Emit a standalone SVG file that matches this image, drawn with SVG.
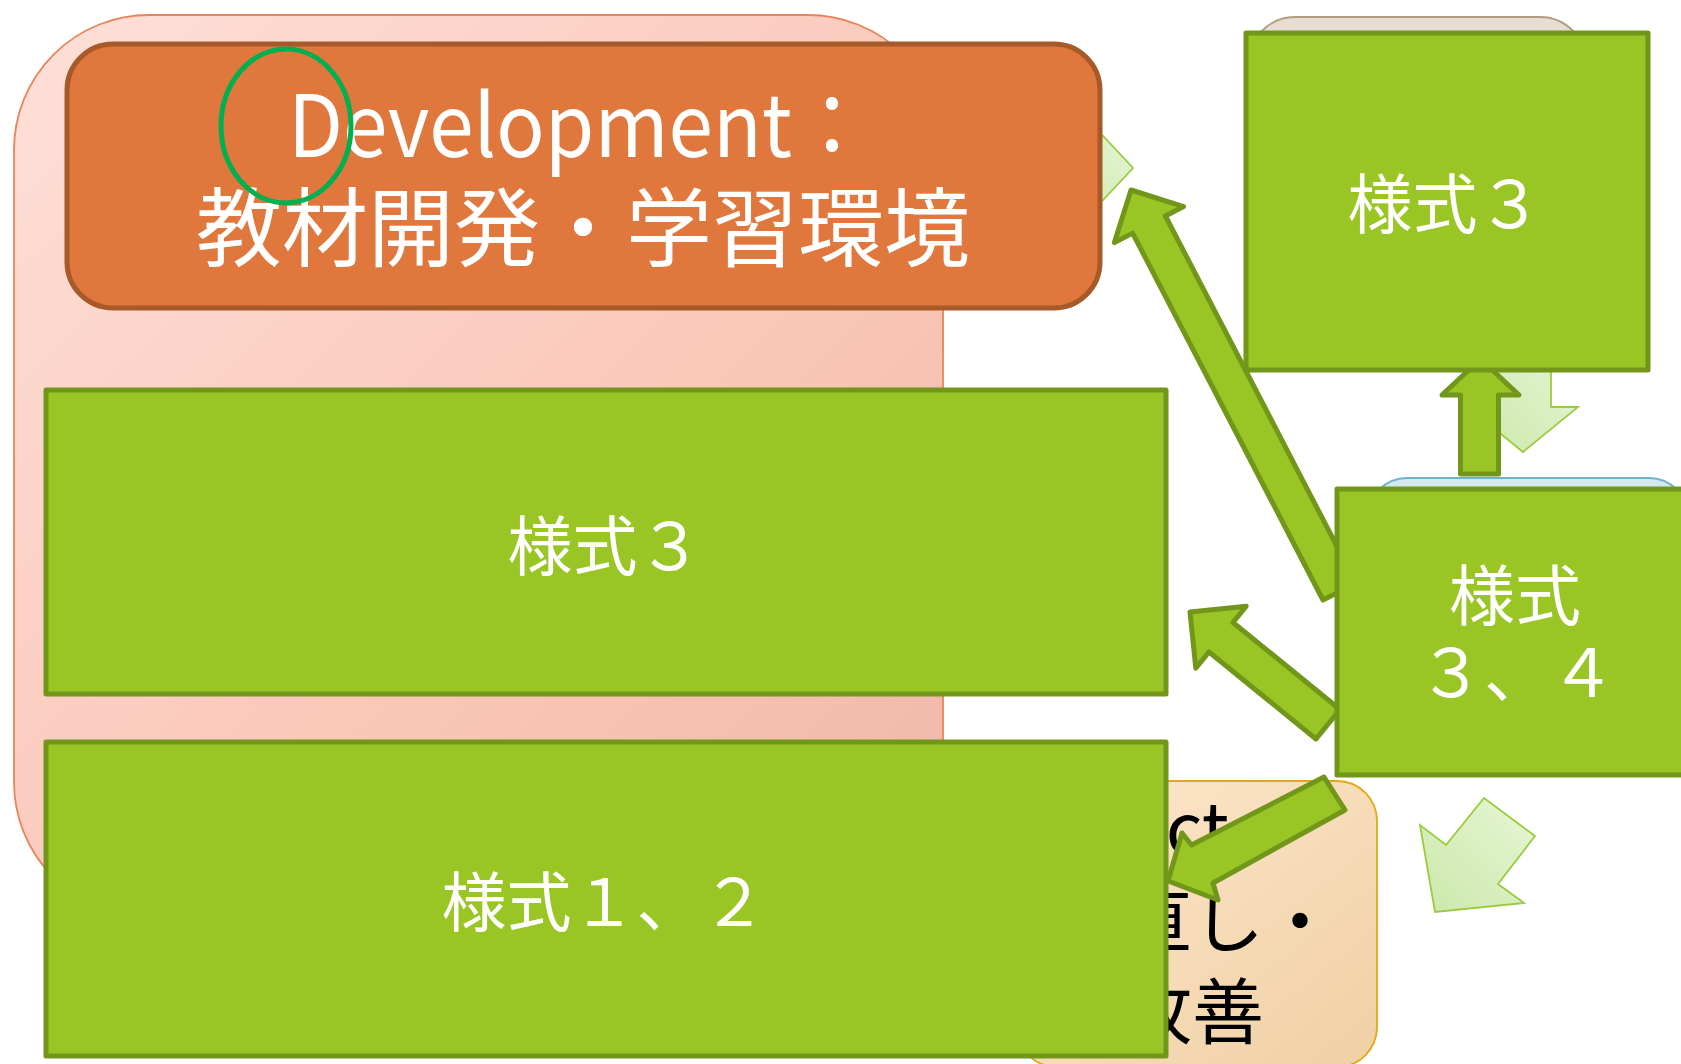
<svg xmlns="http://www.w3.org/2000/svg" width="1681" height="1064" viewBox="0 0 1681 1064">
  <defs>
    <linearGradient id="pinkGrad" x1="0" y1="0" x2="1" y2="1">
      <stop offset="0" stop-color="#FDE0D8"/>
      <stop offset="0.55" stop-color="#FBC8BA"/>
      <stop offset="1" stop-color="#EFB6A8"/>
    </linearGradient>
    <linearGradient id="peachGrad" x1="0" y1="0" x2="1" y2="1">
      <stop offset="0" stop-color="#FDE8CD"/>
      <stop offset="1" stop-color="#F0D0A4"/>
    </linearGradient>
    <linearGradient id="paleGreen" x1="1" y1="0" x2="0" y2="1">
      <stop offset="0" stop-color="#E6F6D6"/>
      <stop offset="1" stop-color="#CBE8AA"/>
    </linearGradient>
    <style>
      .txt { font-family: "Noto Sans CJK JP", "Noto Sans", sans-serif; }
      .wt { fill: #FFFFFF; }
      .box { fill: #99C624; stroke: #71961A; stroke-width: 5; stroke-linejoin: round; }
      .arrow { fill: #99C624; stroke: #71961A; stroke-width: 5; stroke-linejoin: round; }
      .pale { fill: url(#paleGreen); stroke: #9CCB3E; stroke-width: 1.8; stroke-linejoin: miter; }
    </style>
  </defs>

  <rect width="1681" height="1064" fill="#FFFFFF"/>

  <!-- background phase shapes -->
  <g id="plan-bg">
    <rect x="14" y="15" width="929" height="902" rx="135" ry="135" fill="url(#pinkGrad)" stroke="#E9845A" stroke-width="1.8"/>
  </g>
  <g id="check-bg">
    <rect x="1249" y="17" width="337" height="300" rx="46" ry="46" fill="#E8DDD2" stroke="#B39B82" stroke-width="1.8"/>
  </g>
  <g id="do-bg">
    <rect x="1368" y="478" width="320" height="280" rx="39" ry="39" fill="#D3E9EF" stroke="#6BB4CA" stroke-width="1.8"/>
  </g>
  <g id="act-bg">
    <rect x="1017" y="781" width="360" height="286" rx="40" ry="40" fill="url(#peachGrad)" stroke="#E3A912" stroke-width="1.8"/>
    <g class="txt" font-size="72" fill="#000000">
      <text x="1122" y="855">Act</text>
      <text x="1192" y="947" text-anchor="middle">見直し・</text>
      <text x="1192" y="1038" text-anchor="middle">改善</text>
    </g>
  </g>

  <!-- pale cycle arrows -->
  <g id="cycle-arrows">
    <polygon class="pale" points="1050,150 1090,150 1090,122 1133,168 1090,214 1090,186 1050,186"/>
    <polygon class="pale" points="1495,330 1551,330 1551,407 1578,407 1523,452 1468,407 1495,407"/>
    <polygon class="pale" points="1484,798 1535,836 1498,884 1524,903 1435,912 1420,825 1446,845"/>
  </g>

  <!-- header node -->
  <g id="development">
    <rect x="67" y="44" width="1033" height="264" rx="46" ry="46" fill="#E0773C" stroke="#A75A29" stroke-width="5"/>
    <g class="txt wt" font-size="86" text-anchor="middle">
      <text x="580" y="157" textLength="584" lengthAdjust="spacingAndGlyphs">Development：</text>
      <text x="583" y="260">教材開発・学習環境</text>
    </g>
    <ellipse cx="286" cy="126" rx="65" ry="77" fill="none" stroke="#00B050" stroke-width="5"/>
  </g>

  <!-- connectors -->
  <g id="connectors">
    <polygon class="arrow" points="1131,190 1183.6,206.6 1165.4,216 1356,583 1323,600 1132.6,233.1 1114.4,242.6"/>
    <polygon class="arrow" points="1190,612 1246.2,606.2 1233,622.5 1340,709.5 1316,739 1209,652 1195.8,668.2"/>
    <polygon class="arrow" points="1168,881 1182,833 1191.5,845 1324,777 1345,810 1213,883 1218,900"/>
    <polygon class="arrow" points="1480.5,359 1519,395 1498.5,395 1498.5,474 1460.5,474 1460.5,395 1442,395"/>
  </g>

  <!-- green nodes -->
  <g id="node-a">
    <rect class="box" x="46" y="390" width="1120" height="304"/>
    <text class="txt wt" x="605" y="570" font-size="65" text-anchor="middle">様式３</text>
  </g>
  <g id="node-b">
    <rect class="box" x="46" y="742" width="1120" height="314"/>
    <text class="txt wt" x="604" y="926" font-size="65" text-anchor="middle">様式１、２</text>
  </g>
  <g id="node-c">
    <rect class="box" x="1246" y="33" width="402" height="337"/>
    <text class="txt wt" x="1445" y="228" font-size="65" text-anchor="middle">様式３</text>
  </g>
  <g id="node-d">
    <rect class="box" x="1337" y="489" width="360" height="286"/>
    <g class="txt wt" font-size="66" text-anchor="middle">
      <text x="1515" y="620">様式</text>
      <text x="1517" y="697">３、４</text>
    </g>
  </g>
</svg>
